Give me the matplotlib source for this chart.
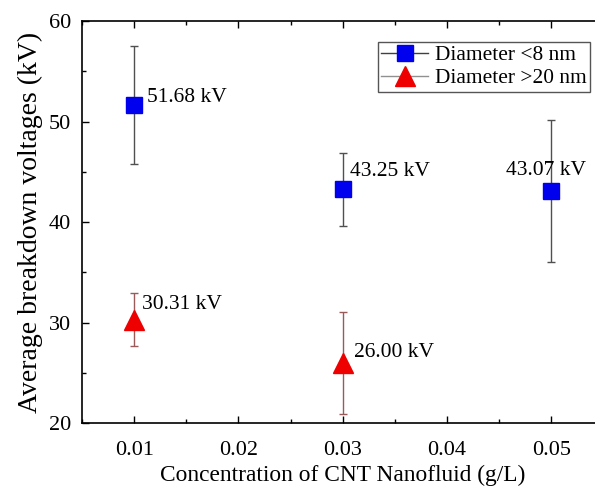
import matplotlib
matplotlib.use('Agg')
import matplotlib.pyplot as plt
from matplotlib.lines import Line2D
from matplotlib.ticker import MultipleLocator

plt.rcParams['font.family'] = 'Liberation Serif'
plt.rcParams['font.size'] = 14

# breakdown voltage vs CNT concentration
conc_small = [0.01, 0.03, 0.05]
volt_small = [51.68, 43.25, 43.07]
err_small = [5.85, 3.65, 7.05]

conc_large = [0.01, 0.03]
volt_large = [30.31, 26.00]
err_large = [2.6, 5.1]

# label offsets in pixels (dx, dy, ha)
offs_small = [(13, 7, 'left'), (7, 18, 'left'), (-5, 21, 'center')]
offs_large = [(8, 15, 'left'), (11, 10, 'left')]

fig = plt.figure(figsize=(5.95, 4.91), dpi=100)
ax = fig.add_axes([82 / 595, 1 - 423.3 / 491, 521.5 / 595, 402.3 / 491])

ax.errorbar(conc_small, volt_small, yerr=err_small, fmt='s', color='#0000ee',
            ms=11, ecolor='#505050', elinewidth=1, capsize=3, capthick=1, zorder=3)
ax.errorbar(conc_large, volt_large, yerr=err_large, fmt='^', color='#ee0000',
            ms=14, ecolor='#9a5a5a', elinewidth=1, capsize=3, capthick=1, zorder=3)

for x, y, (dx, dy, ha) in zip(conc_small, volt_small, offs_small):
    ax.annotate(f'{y:.2f} kV', (x, y), xytext=(dx, dy), textcoords='offset pixels',
                ha=ha, va='center', fontsize=15.5)
for x, y, (dx, dy, ha) in zip(conc_large, volt_large, offs_large):
    ax.annotate(f'{y:.2f} kV', (x, y), xytext=(dx, dy), textcoords='offset pixels',
                ha=ha, va='center', fontsize=15.5)

ax.set_xlim(0.005, 0.055)
ax.set_ylim(20, 60)
ax.xaxis.set_major_locator(MultipleLocator(0.01))
ax.xaxis.set_minor_locator(MultipleLocator(0.005))
ax.yaxis.set_major_locator(MultipleLocator(10))
ax.yaxis.set_minor_locator(MultipleLocator(5))
ax.tick_params(which='both', direction='in', top=True, right=True, labelsize=16)
ax.tick_params(which='major', length=5, width=1, pad=8)
ax.tick_params(which='minor', length=3, width=1)
ax.tick_params(axis='x', which='major', pad=13)
for s in ax.spines.values():
    s.set_linewidth(1.2)

ax.set_xlabel('Concentration of CNT Nanofluid (g/L)', fontsize=16.8, labelpad=3)
ax.set_ylabel('Average breakdown voltages (kV)', fontsize=20, labelpad=4)

handles = [
    Line2D([], [], color='#404040', lw=1, marker='s', ms=11,
           markerfacecolor='#0000ee', markeredgecolor='#0000ee'),
    Line2D([], [], color='#909090', lw=1, marker='^', ms=14,
           markerfacecolor='#ee0000', markeredgecolor='#ee0000'),
]
leg = ax.legend(handles, ['Diameter <8 nm', 'Diameter >20 nm'],
                loc='upper left', bbox_to_anchor=(378 / 595, 1 - 42 / 491),
                bbox_transform=fig.transFigure, fancybox=False, framealpha=1,
                edgecolor='#555555', fontsize=15.4, handlelength=2.2,
                handletextpad=0.3, borderpad=0.15, labelspacing=0.15,
                borderaxespad=0)
leg.get_frame().set_linewidth(1)

fig.savefig('out.png', dpi=100)
